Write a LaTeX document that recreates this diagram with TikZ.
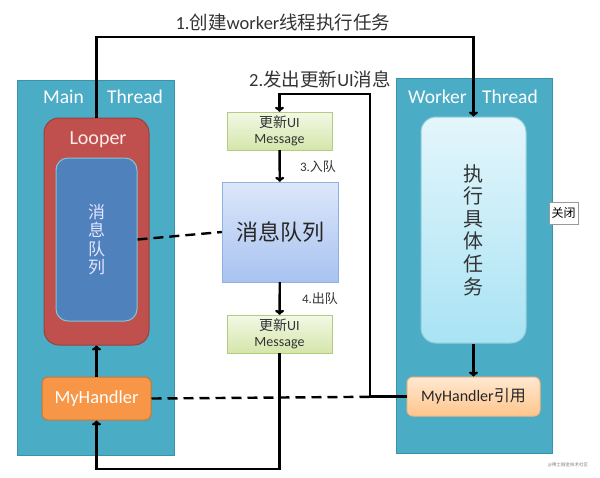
\documentclass[tikz,border=0pt]{standalone}
\usepackage{fontspec}
\setmainfont{Carlito}
\newfontfamily\cjk{Noto Sans CJK SC}
\usetikzlibrary{arrows.meta}
\definecolor{teal}{HTML}{4BACC6}
\definecolor{tealdark}{HTML}{3A93AB}
\definecolor{looperred}{HTML}{C0504D}
\definecolor{queueblue}{HTML}{4F81BD}
\definecolor{handlerorange}{HTML}{F79646}
\definecolor{msgtop}{HTML}{F3F8E6}
\definecolor{msgbottom}{HTML}{D4E6AA}
\definecolor{msgborder}{HTML}{B5CC80}
\definecolor{queuetop}{HTML}{DDE7FA}
\definecolor{queuebottom}{HTML}{A8C2F0}
\definecolor{queueborder}{HTML}{8FB0E4}
\definecolor{tasktop}{HTML}{E4F6FB}
\definecolor{taskbottom}{HTML}{A9E3F4}
\begin{document}
\begin{tikzpicture}[x=1pt,y=-1pt,
    >={To[length=5pt,width=9pt]},
    flow/.style={line width=2.4pt,->},
    link/.style={line width=2.4pt,dash pattern=on 10pt off 6pt},
    thread/.style={draw=tealdark,fill=teal,line width=1pt,inner sep=0pt},
    msgbox/.style={draw=msgborder,top color=msgtop,bottom color=msgbottom,
        minimum width=105pt,minimum height=38pt,inner sep=0pt,align=center,font=\fontsize{14}{16}\selectfont,text=black!80},
    label/.style={text=black!80,inner sep=0pt}]
  \useasboundingbox (0,0) rectangle (600,477);
  % threads
  \node[thread,minimum width=157pt,minimum height=375pt] (main) at (95.5,267.5) {};
  \node[thread,minimum width=156pt,minimum height=375pt] (worker) at (474,265.5) {};
  \node[text=white,font=\fontsize{19.5}{22}\selectfont] (maintitle) at (103,97) {Main\hspace{1.2em}Thread};
  \node[text=white,font=\fontsize{19.5}{22}\selectfont] (workertitle) at (473,97) {Worker\hspace{0.8em}Thread};
  % main thread
  \node[draw=looperred!80!black,fill=looperred,rounded corners=15pt,line width=1pt,
        minimum width=105pt,minimum height=227pt] (looper) at (96.5,231.5) {};
  \node[text=red!8!white,font=\fontsize{20}{22}\selectfont] (loopertitle) at (98,140) {Looper};
  \node[draw=teal!70!white,fill=queueblue,rounded corners=12pt,line width=1pt,
        minimum width=81pt,minimum height=163pt,align=center,text=blue!10!white,
        font=\cjk\fontsize{17}{18.4}\selectfont] (msgs) at (96.5,239.5) {消\\息\\队\\列};
  \node[draw=handlerorange!80!black,fill=handlerorange,rounded corners=6pt,line width=1pt,
        minimum width=109pt,minimum height=43pt,text=white,font=\fontsize{18.5}{20}\selectfont] (handler) at (96.5,398.5) {MyHandler};
  % worker thread
  \node[draw=teal!60!white,top color=tasktop,bottom color=taskbottom,rounded corners=15pt,line width=1pt,
        minimum width=105pt,minimum height=226pt,align=center,text=black!80,
        font=\cjk\fontsize{20}{22.6}\selectfont] (task) at (473.5,230) {执\\行\\具\\体\\任\\务};
  \node[draw=handlerorange!70!white,top color=orange!18!white,bottom color=orange!45!white,rounded corners=6pt,line width=1pt,
        minimum width=133pt,minimum height=39pt,text=black!85,font=\fontsize{16}{18}\selectfont] (handlerref) at (473.5,396.5) {MyHandler{\cjk 引用}};
  % message queue
  \node[msgbox] (msg1) at (279.5,131) {{\cjk 更新}UI\\Message};
  \node[draw=queueborder,top color=queuetop,bottom color=queuebottom,minimum width=116pt,minimum height=100pt,
        text=black!85,font=\cjk\fontsize{22}{24}\selectfont] (queue) at (280,232) {消息队列};
  \node[msgbox] (msg2) at (279.5,334) {{\cjk 更新}UI\\Message};
  \node[draw=black!40,fill=white,minimum width=29pt,minimum height=22pt,inner sep=0pt,
        font=\cjk\fontsize{12}{14}\selectfont] (close) at (563.5,213) {关闭};
  % connectors
  \draw[link] (msgs.east) -- (queue.west);
  \draw[link] (handler.east) -- (handlerref.west);
  \draw[flow] (looper.north) |- (task.north |- 0,37) -- (task.north);
  \draw[flow] (handlerref.west) -| (370,94) -| (msg1.north);
  \draw[flow] (msg1) -- (queue);
  \draw[flow] (queue) -- (msg2);
  \draw[flow] (msg2.south) |- (handler.south |- 0,469) -- (handler.south);
  \draw[flow] (handler) -- (looper);
  \draw[flow] (task) -- (handlerref);
  % labels
  \node[label,font=\fontsize{18.5}{20}\selectfont] (step1) at (283,22) {1.{\cjk 创建}worker{\cjk 线程执行任务}};
  \node[label,font=\fontsize{18.5}{20}\selectfont] (step2) at (320,79) {2.{\cjk 发出更新}UI{\cjk 消息}};
  \node[label,font=\fontsize{13}{15}\selectfont] (step3) at (318,167) {3.{\cjk 入队}};
  \node[label,font=\fontsize{13}{15}\selectfont] (step4) at (320,299) {4.{\cjk 出队}};
  \node[text=black!50,inner sep=0pt,font=\cjk\fontsize{4.5}{5}\selectfont] (mark) at (568,465) {@稀土掘金技术社区};
\end{tikzpicture}
\end{document}
